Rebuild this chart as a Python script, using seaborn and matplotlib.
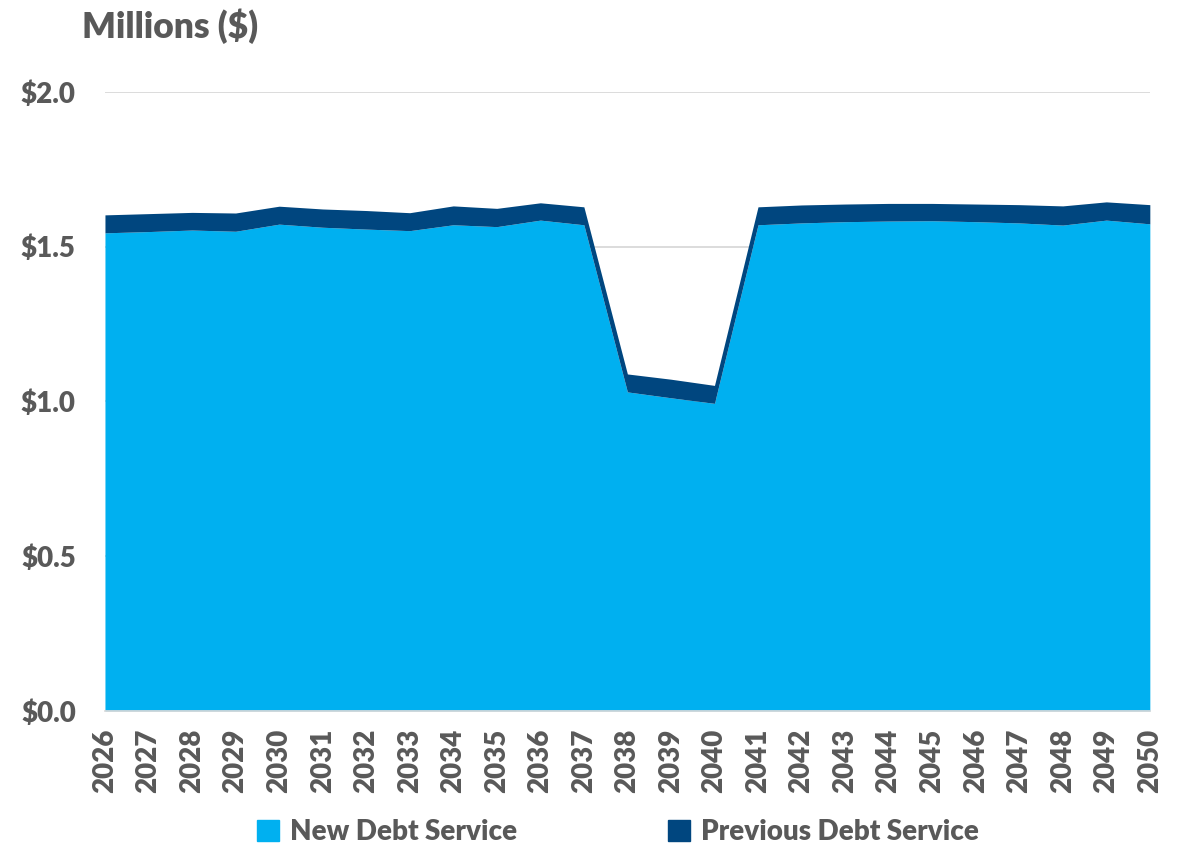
import matplotlib
matplotlib.use("Agg")
import matplotlib.pyplot as plt
import seaborn as sns
import numpy as np
from matplotlib.patches import Patch

# values in millions of dollars
years = list(range(2026, 2051))
new_debt = [1.545, 1.549, 1.554, 1.550, 1.573, 1.563, 1.557, 1.552, 1.571, 1.565,
            1.586, 1.571, 1.031, 1.012, 0.994, 1.571, 1.577, 1.581, 1.583, 1.584,
            1.581, 1.577, 1.570, 1.586, 1.574]
prev_debt = [0.058, 0.058, 0.057, 0.059, 0.058, 0.059, 0.060, 0.058, 0.061, 0.059,
             0.056, 0.058, 0.058, 0.060, 0.058, 0.058, 0.058, 0.057, 0.057, 0.056,
             0.057, 0.059, 0.062, 0.059, 0.062]
yticks = [0.0, 0.5, 1.0, 1.5, 2.0]

new_color = "#00B0F0"
prev_color = "#00467F"
text_color = "#595959"

sns.set_theme(style="white")
plt.rcParams["font.family"] = ["Lato", "DejaVu Sans"]

fig = plt.figure(figsize=(11.86, 8.44), dpi=100)
ax = fig.add_axes([0.0885, 0.1576, 0.881, 0.7334])

ax.stackplot(years, new_debt, prev_debt, colors=[new_color, prev_color],
             linewidth=0, zorder=2)

ax.set_xlim(years[0], years[-1])
ax.set_ylim(0, 2.0)
ax.set_yticks(yticks)
ax.set_yticklabels([f"${v:.1f}" for v in yticks])
ax.set_xticks(years)
ax.set_xticklabels([str(y) for y in years], rotation=90)
ax.yaxis.grid(True, color="#D9D9D9", linewidth=1.3, zorder=0)
ax.set_axisbelow(True)

for s in ["left", "right", "top"]:
    ax.spines[s].set_visible(False)
ax.spines["bottom"].set_color("#D9D9D9")

ax.tick_params(axis="both", length=0, labelsize=20, labelcolor=text_color)
ax.tick_params(axis="y", pad=21)
ax.tick_params(axis="x", pad=13)
for lab in ax.get_xticklabels() + ax.get_yticklabels():
    lab.set_fontweight("heavy")

fig.text(0.069, 0.99, "Millions ($)", fontsize=25.5, fontweight="heavy",
         color=text_color, ha="left", va="top")

handles = [Patch(color=new_color, label="New Debt Service"),
           Patch(color=prev_color, label="Previous Debt Service")]
leg = fig.legend(handles=handles, loc="lower center", bbox_to_anchor=(0.521, -0.031),
                 ncol=2, frameon=False, columnspacing=5.4, handlelength=0.8,
                 handleheight=0.8, handletextpad=0.4,
                 prop={"size": 20, "weight": "heavy"})
for t in leg.get_texts():
    t.set_color(text_color)

fig.savefig("out.png", dpi=100)
